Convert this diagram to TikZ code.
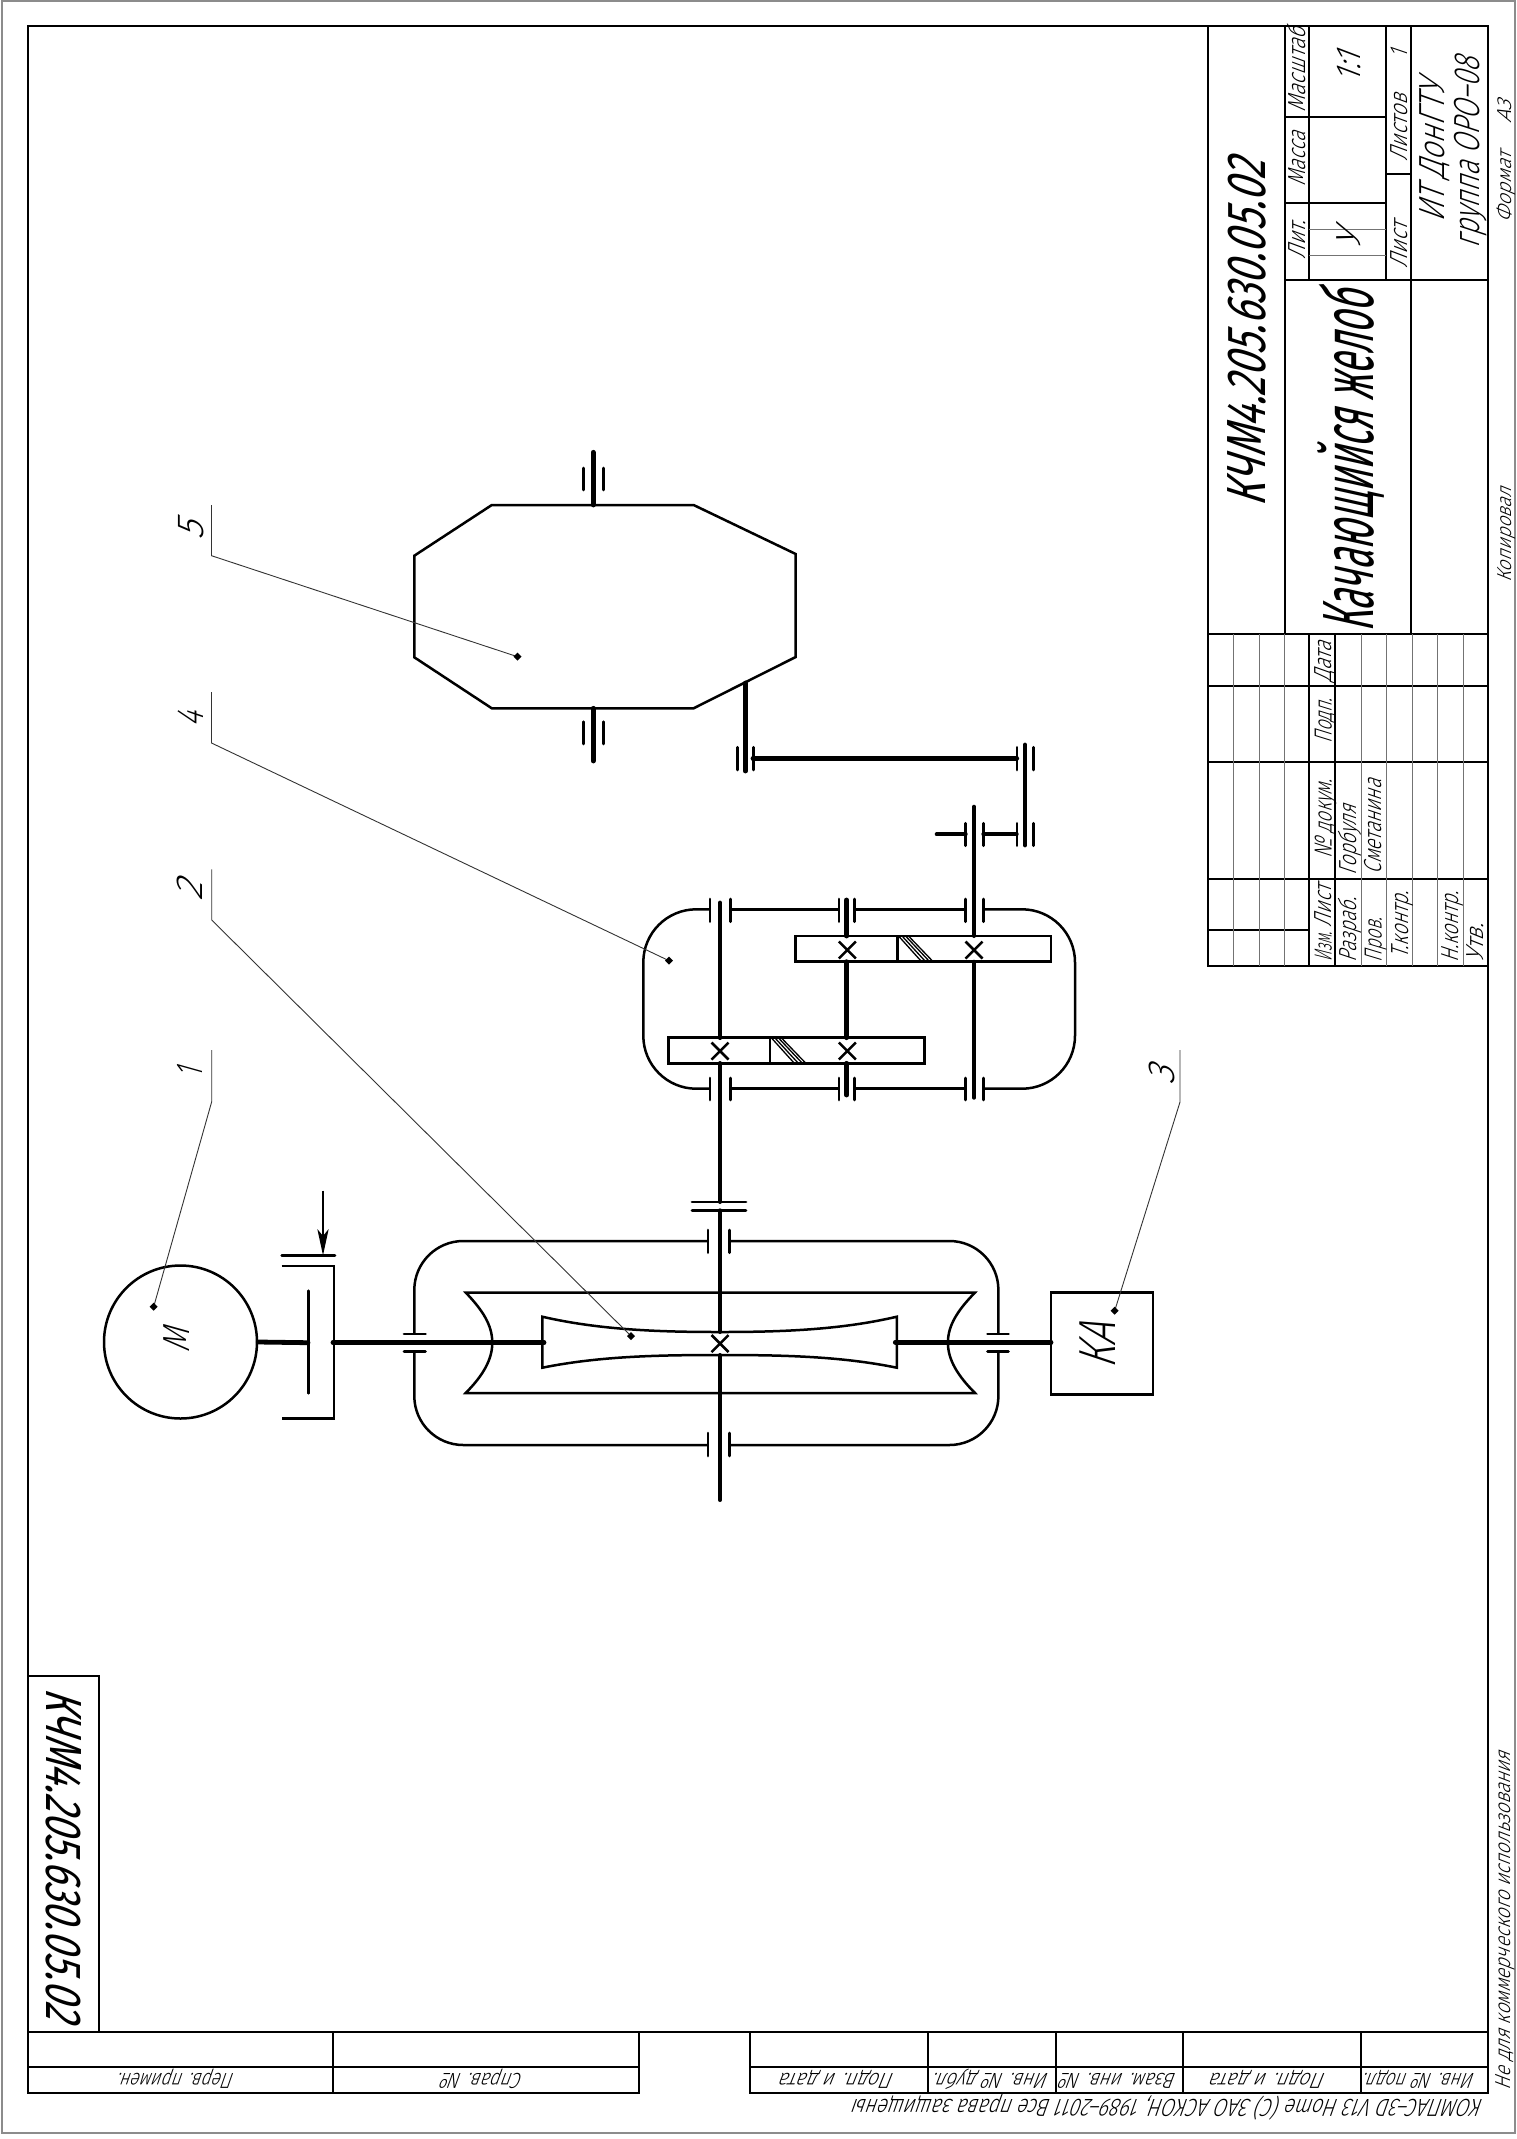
\documentclass[tikz,border=0pt]{standalone}
\usepackage{fontspec}
\usepackage{graphicx}
\setmainfont{Fira Sans Light}[FakeSlant=0.27,FakeStretch=0.62]
\newfontfamily\gheavy{Fira Sans}[FakeSlant=0.27,FakeStretch=0.62]
\tikzset{
  sheet/.style={draw=black!45,line width=1.5pt},
  bold/.style={draw=black,line width=2.6pt,line cap=rect},
  fine/.style={draw=black!55,line width=1pt},
  part/.style={draw=black,line width=2.5pt,line join=miter},
  bar/.style={draw=black,line width=2.7pt,line cap=round},
  shaft/.style={draw=black,line width=4.8pt,line cap=round},
  leader/.style={draw=black!80,line width=.9pt},
  cross/.style={draw=black,line width=2.5pt},
  hatch/.style={draw=black,line width=1.3pt},
  gtxt/.style={inner sep=0pt,outer sep=0pt,text=black}
}
% name, rotation, position, cap height, length, text
\newcommand\gt[6]{\pgfmathsetmacro\gfs{#4*1.45}\node[gtxt,rotate=#2,text height=#4pt,text depth=0pt,font=\fontsize{\gfs pt}{\gfs pt}\selectfont] (#1) at (#3) {\resizebox{#5pt}{\height}{#6}};}
% pair of bearing bars across a vertical shaft
\newcommand\brV[4]{\draw[bar] (#1,#3) -- (#1,#4); \draw[bar] (#2,#3) -- (#2,#4);}
% pair of bearing bars across a horizontal shaft
\newcommand\brH[4]{\draw[bar] (#3,#1) -- (#4,#1); \draw[bar] (#3,#2) -- (#4,#2);}
\newcommand\xmark[2]{\draw[cross] (#1-8.5,#2-8.5) -- (#1+8.5,#2+8.5) (#1-8.5,#2+8.5) -- (#1+8.5,#2-8.5);}
\newcommand\dotmark[2]{\fill[black] (#1-4,#2) -- (#1,#2-4) -- (#1+4,#2) -- (#1,#2+4) -- cycle;}
\begin{document}
\begin{tikzpicture}[x=1pt,y=-1pt]
\useasboundingbox (0,0) rectangle (1516,2139);
\fill[white] (0,0) rectangle (1516,2139);
\draw[sheet] (2,1) rectangle (1515,2133);
% frame
\draw[bold] (639,2093) -- (28,2093) -- (28,26) -- (1488,26) -- (1488,2093) -- (750,2093);
% title block
\draw[bold] (1208,26) -- (1208,966) -- (1488,966);
\draw[bold] (1285,26) -- (1285,634);
\draw[bold] (1411,26) -- (1411,634);
\draw[bold] (1309,26) -- (1309,280);
\draw[bold] (1386,26) -- (1386,280);
\draw[bold] (1285,117) -- (1386,117);
\draw[bold] (1285,203) -- (1386,203);
\draw[bold] (1386,174) -- (1411,174);
\draw[bold] (1285,280) -- (1488,280);
\draw[bold] (1208,634) -- (1488,634);
\draw[bold] (1208,686) -- (1488,686);
\draw[bold] (1208,762) -- (1488,762);
\draw[bold] (1208,879) -- (1488,879);
\draw[bold] (1208,930) -- (1309,930);
\draw[bold] (1309,634) -- (1309,966);
\draw[bold] (1335,634) -- (1335,966);
\foreach \vx in {1233,1259,1284,1361,1386,1412,1437,1463}{\draw[fine] (\vx,634) -- (\vx,966);}
\draw[fine] (1309,229) -- (1386,229);
\draw[fine] (1309,255) -- (1386,255);
% bottom strip
\draw[bold] (28,2032) -- (1488,2032);
\draw[bold] (28,2067) -- (639,2067);
\draw[bold] (750,2067) -- (1488,2067);
\draw[bold] (639,2032) -- (639,2093);
\draw[bold] (333,2032) -- (333,2093);
\draw[bold] (750,2032) -- (750,2093);
\draw[bold] (928,2032) -- (928,2093);
\draw[bold] (1056,2032) -- (1056,2093);
\draw[bold] (1183,2032) -- (1183,2093);
\draw[bold] (1361,2032) -- (1361,2093);
\draw[bold] (99,1676) -- (99,2032);
\draw[bold] (28,1676) -- (99,1676);
% title block texts
\gt{tcode}{90}{1246,334}{38}{346}{{\gheavy КЧМ4.205.630.05.02}}
\gt{tname}{90}{1348,462}{50}{341}{{\gheavy Качающийся желоб}}
\gt{tmash}{90}{1297,70}{17}{84}{Масштаб}
\gt{tmass}{90}{1297,159}{17}{55}{Масса}
\gt{tlit}{90}{1297,240}{17}{38}{Лит.}
\gt{tscale}{90}{1348,68}{24}{30}{1:1}
\gt{tu}{90}{1348,240}{24}{18}{У}
\gt{tlists}{90}{1399,128}{17}{67}{Листов}
\gt{tone}{90}{1399,54}{17}{8}{1}
\gt{tlist}{90}{1399,245}{17}{46}{Лист}
\gt{tinst}{90}{1432,152}{25}{141}{ИТ ДонГТУ}
\gt{tgroup}{90}{1467,153}{25}{190}{группа ОРО--08}
\gt{tformat}{90}{1504,187}{14}{70}{Формат}
\gt{ta}{90}{1504,112}{14}{23}{А3}
\gt{tcopy}{90}{1504,535}{14}{95}{Копировал}
\gt{tdate}{90}{1323,662}{17}{41}{Дата}
\gt{tsign}{90}{1323,721}{17}{45}{Подп.}
\gt{tdoc}{90}{1323,819}{17}{78}{№ докум.}
\gt{tsheet}{90}{1323,906}{17}{42}{Лист}
\gt{tizm}{90}{1323,947}{17}{29}{Изм.}
\gt{trazr}{90}{1348,930}{17}{64}{Разраб.}
\gt{tprov}{90}{1373,940}{17}{44}{Пров.}
\gt{ttk}{90}{1400,925}{17}{67}{Т.контр.}
\gt{tnk}{90}{1450,927}{17}{70}{Н.контр.}
\gt{tutv}{90}{1475,943}{17}{38}{Утв.}
\gt{tgorb}{90}{1348,840}{17}{70}{Горбуля}
\gt{tsmet}{90}{1373,827}{17}{95}{Сметанина}
% stamp and bottom strip texts
\gt{tstamp}{-90}{64,1853}{35}{332}{{\gheavy КЧМ4.205.630.05.02}}
\gt{tperv}{180}{177,2081}{15}{116}{Перв. примен.}
\gt{tsprav}{180}{483,2081}{15}{81}{Справ. №}
\gt{tp1}{180}{838,2081}{15}{114}{Подп. и дата}
\gt{tinv1}{180}{992,2081}{15}{115}{Инв. № дубл.}
\gt{tvz}{180}{1119,2081}{15}{116}{Взам. инв. №}
\gt{tp2}{180}{1269,2081}{15}{115}{Подп. и дата}
\gt{tinv2}{180}{1420,2081}{15}{111}{Инв. № подл.}
\gt{tkompas}{180}{1169,2108}{17}{630}{КОМПАС--3D V13 Home (C) ЗАО АСКОН, 1989--2011 Все права защищены}
\gt{tnot}{90}{1503,1921}{15}{338}{Не для коммерческого использования}
% motor
\node[circle,draw=black,line width=2.5pt,minimum size=153pt,inner sep=0pt] (motor) at (180.5,1342) {};
\gt{tm}{90}{176,1341}{26}{24}{М}
% clutch
\draw[shaft] (motor.east) -- (308,1342.7);
\draw[bar] (308.3,1290.7) -- (308.3,1393.3);
\draw[part] (281.7,1266) -- (334,1266) -- (334,1418.3) -- (281.7,1418.3);
\draw[bar] (281.7,1255.3) -- (335,1255.3);
\coordinate (ctrl) at (323,1190.7); \coordinate (ctrlend) at (323,1250);
\draw[draw=black,line width=2.5pt] (ctrl) -- (ctrlend);
\fill[black] (323,1255.3) -- (317.3,1229) -- (323,1236) -- (328.7,1229) -- cycle;
\draw[shaft] (333,1342.7) -- (544,1342.7);
% first housing
\draw[part,rounded corners=49pt] (708,1241) -- (414.3,1241) -- (414.3,1334);
\draw[part,rounded corners=49pt] (414.3,1351.7) -- (414.3,1445) -- (708,1445);
\draw[part,rounded corners=49pt] (729.5,1241) -- (998.4,1241) -- (998.4,1334);
\draw[part,rounded corners=49pt] (998.4,1351.7) -- (998.4,1445) -- (729.5,1445);
\brH{1334}{1351.7}{404}{425.5}
\brH{1334}{1351.7}{987.5}{1008.5}
\brV{708}{729.5}{1230}{1252.7}
\brV{708}{729.5}{1433}{1456}
% trough
\draw[part] (465.7,1292.5) -- (975,1292.5) .. controls (958,1310) and (947.9,1325) .. (947.9,1342.7) .. controls (947.9,1360) and (958,1376) .. (975,1393) -- (465.7,1393) .. controls (482.5,1376) and (492.3,1360) .. (492.3,1342.7) .. controls (492.3,1325) and (482.5,1310) .. cycle;
\draw[part] (542.3,1316.7) .. controls (600,1330) and (660,1332) .. (720,1332) .. controls (780,1332) and (840,1330) .. (896.8,1316.7) -- (896.8,1367.7) .. controls (840,1356) and (780,1355) .. (720,1355) .. controls (660,1355) and (600,1356) .. (542.3,1367.7) -- cycle;
\xmark{720}{1343.5}
\draw[shaft] (895.3,1342.3) -- (1051,1342.3);
\node[rectangle,draw=black,line width=2.5pt,minimum width=102pt,minimum height=102pt,inner sep=0pt] (ka) at (1102,1343.3) {};
\gt{tka}{90}{1097,1346.7}{36}{45}{КА}
% central shaft
\draw[shaft,line width=4pt] (720,1210.3) -- (720,1332);
\draw[shaft,line width=4pt] (720,1355) -- (720,1500);
\draw[shaft,line width=4pt] (720,1063) -- (720,1202);
\draw[bar] (692,1202) -- (746,1202);
\draw[bar] (692,1210.3) -- (746,1210.3);
% reducer housing
\draw[part,rounded corners=53pt] (710,909.3) -- (643.3,909.3) -- (643.3,1088.7) -- (710,1088.7);
\draw[part,rounded corners=53pt] (983.3,909.3) -- (1075,909.3) -- (1075,1088.7) -- (983.3,1088.7);
\draw[part] (730.3,909.3) -- (839,909.3);
\draw[part] (854.3,909.3) -- (965.7,909.3);
\draw[part] (730.3,1088.7) -- (839,1088.7);
\draw[part] (854.3,1088.7) -- (965.7,1088.7);
\brV{710}{730.3}{899}{921.7}
\brV{839}{854.3}{899}{921.7}
\brV{965.7}{983.3}{899}{921.7}
\brV{710}{730.3}{1078}{1100}
\brV{839}{854.3}{1078}{1100}
\brV{965.7}{983.3}{1078}{1100}
% shafts in reducer
\draw[shaft] (720,903) -- (720,1037.7);
\draw[shaft] (846.7,900) -- (846.7,936);
\draw[shaft] (846.7,961.7) -- (846.7,1037.7);
\draw[shaft] (846.7,1063.3) -- (846.7,1095);
\draw[shaft,line width=4pt] (974,806.7) -- (974,936);
\draw[shaft,line width=4pt] (974,961.7) -- (974,1097.7);
% gear pairs
\draw[part] (795.7,936) rectangle (1051,961.7);
\draw[part] (897.3,936) -- (897.3,961.7);
\draw[hatch] (899,936.5) -- (921,961) (902.5,936.5) -- (925,961) (906,936.5) -- (929,961) (909,936.5) -- (932.5,961);
\draw[part] (668.3,1037.7) rectangle (924.3,1063.3);
\draw[part] (770,1037.7) -- (770,1063.3);
\draw[hatch] (771.7,1038.2) -- (793.7,1062.6) (775.2,1038.2) -- (797.7,1062.6) (778.7,1038.2) -- (801.7,1062.6) (781.7,1038.2) -- (805.2,1062.6);
\xmark{847.3}{950}
\xmark{974}{950}
\xmark{720}{1051}
\xmark{847.3}{1051}
% output train
\brV{965.7}{983.3}{823.3}{845.7}
\draw[shaft,line width=4pt] (936.7,834.3) -- (965.7,834.3);
\draw[shaft,line width=4pt] (983.3,834.3) -- (1016.7,834.3);
\brV{1017}{1033.3}{823.3}{845.7}
\brV{1017}{1033.3}{747.3}{770}
\draw[shaft] (1025,745) -- (1025,845);
\draw[shaft] (753,758.3) -- (1016.7,758.3);
\brV{737.3}{753.3}{747.3}{770}
\draw[shaft] (745.3,683) -- (745.3,771);
% drum
\draw[part] (491.8,505) -- (693.6,505) -- (795.7,554) -- (795.7,657) -- (693.6,708.3) -- (491.8,708.3) -- (414.3,657.3) -- (414.3,555.7) -- cycle;
\draw[shaft] (593.2,452.3) -- (593.2,505);
\draw[shaft] (593.2,708.3) -- (593.2,761);
\brV{583.2}{603.6}{468}{490}
\brV{583.2}{603.6}{721.7}{744}
% leaders
\foreach \n/\sx/\sa/\sb/\dx/\dy in {1/211.7/1050/1101.7/153.7/1306.7,2/211.7/869.3/920/631/1336,3/1180/1050/1102/1114.7/1310.7,4/211.5/692/743/669/960.7,5/211.5/505/555.7/517.5/656.7}{
  \coordinate (sa\n) at (\sx,\sa);
  \coordinate (sb\n) at (\sx,\sb);
  \coordinate (d\n) at (\dx,\dy);
  \draw[leader] (sa\n) -- (sb\n) -- (d\n);
  \dotmark{\dx}{\dy}
}
\gt{n1}{90}{189.5,1073}{26}{10}{1}
\gt{n2}{90}{189.5,891.5}{26}{19}{2}
\gt{n3}{90}{1161,1076}{26}{18}{3}
\gt{n4}{90}{190,719.6}{26}{15}{4}
\gt{n5}{90}{190,531}{26}{18}{5}
\end{tikzpicture}
\end{document}
